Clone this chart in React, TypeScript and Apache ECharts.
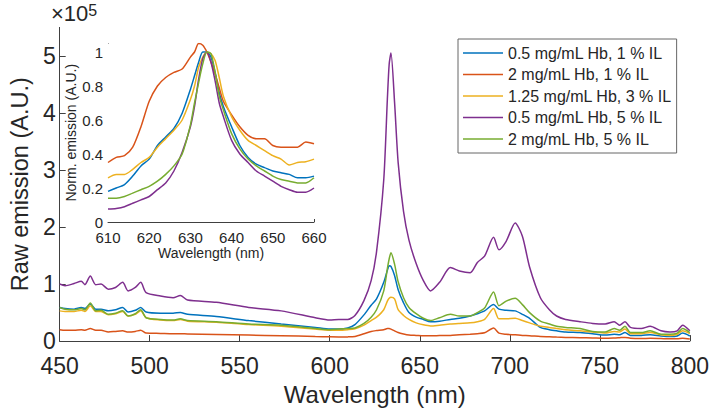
import React, { useEffect, useRef } from "react";
import * as echarts from "echarts";

// Raw emission spectra, values in units of 1e5 A.U.
const wavelength = [
  450, 453, 458, 462, 464, 467, 470, 473, 477, 481, 485, 488, 492, 495, 498, 506, 513, 517, 521, 537,
  555, 573, 592, 600, 605, 610, 614, 619, 623, 626, 630, 632, 633, 634, 636, 638, 641, 644, 648, 652,
  656, 661, 667, 672, 678, 682, 686, 691, 694, 698, 703, 707, 711, 717, 722, 726, 731, 739, 746, 753,
  758, 761, 764, 767, 773, 778, 784, 789, 793, 796, 800,
];
const hb05Il1 = [
  0.59, 0.57, 0.56, 0.59, 0.57, 0.65, 0.56, 0.56, 0.53, 0.55, 0.59, 0.51, 0.54, 0.59, 0.51, 0.49, 0.49, 0.5, 0.47, 0.43,
  0.36, 0.3, 0.24, 0.21, 0.21, 0.23, 0.29, 0.46, 0.63, 0.74, 1.03, 1.24, 1.32, 1.31, 1.15, 0.9, 0.67, 0.5, 0.42, 0.38,
  0.34, 0.35, 0.38, 0.4, 0.44, 0.48, 0.53, 0.64, 0.56, 0.54, 0.53, 0.47, 0.4, 0.24, 0.2, 0.18, 0.16, 0.15, 0.13, 0.105,
  0.12, 0.11, 0.15, 0.1, 0.1, 0.11, 0.09, 0.08, 0.09, 0.14, 0.09,
];
const hb2Il1 = [
  0.2, 0.19, 0.19, 0.2, 0.19, 0.22, 0.19, 0.19, 0.16, 0.17, 0.18, 0.16, 0.17, 0.19, 0.14, 0.135, 0.13, 0.13, 0.125, 0.115,
  0.105, 0.095, 0.08, 0.075, 0.073, 0.074, 0.082, 0.13, 0.17, 0.185, 0.2, 0.22, 0.22, 0.21, 0.18, 0.15, 0.125, 0.107, 0.1, 0.093,
  0.093, 0.097, 0.1, 0.11, 0.12, 0.13, 0.145, 0.23, 0.14, 0.12, 0.11, 0.1, 0.095, 0.08, 0.075, 0.07, 0.065, 0.06, 0.055, 0.05,
  0.055, 0.06, 0.065, 0.05, 0.045, 0.05, 0.045, 0.04, 0.04, 0.05, 0.035,
];
const hb125Il3 = [
  0.53, 0.52, 0.52, 0.54, 0.52, 0.62, 0.52, 0.52, 0.46, 0.48, 0.52, 0.44, 0.47, 0.53, 0.41, 0.37, 0.36, 0.38, 0.35, 0.33,
  0.29, 0.26, 0.21, 0.19, 0.19, 0.2, 0.215, 0.28, 0.36, 0.42, 0.55, 0.7, 0.75, 0.77, 0.74, 0.55, 0.45, 0.38, 0.32, 0.285,
  0.265, 0.28, 0.3, 0.31, 0.32, 0.34, 0.38, 0.57, 0.39, 0.39, 0.4, 0.36, 0.32, 0.26, 0.24, 0.22, 0.2, 0.18, 0.16, 0.14,
  0.17, 0.16, 0.21, 0.13, 0.13, 0.15, 0.11, 0.1, 0.12, 0.18, 0.13,
];
const hb05Il5 = [
  1.0, 0.97, 1.01, 1.05, 0.99, 1.14, 0.99, 1.0, 0.91, 0.94, 1.03, 0.88, 0.94, 1.03, 0.85, 0.79, 0.76, 0.8, 0.72, 0.68,
  0.59, 0.53, 0.41, 0.37, 0.38, 0.38, 0.45, 0.71, 1.06, 1.57, 2.83, 4.24, 4.85, 5.05, 4.19, 3.13, 2.27, 1.77, 1.36, 1.06,
  0.88, 1.03, 1.29, 1.23, 1.2, 1.38, 1.49, 1.82, 1.6, 1.75, 2.07, 1.84, 1.3, 0.76, 0.55, 0.44, 0.38, 0.34, 0.31, 0.3,
  0.34, 0.28, 0.34, 0.24, 0.22, 0.26, 0.18, 0.16, 0.18, 0.28, 0.18,
];
const hb2Il5 = [
  0.59, 0.56, 0.55, 0.57, 0.55, 0.67, 0.53, 0.54, 0.47, 0.49, 0.53, 0.44, 0.48, 0.55, 0.41, 0.38, 0.37, 0.39, 0.36, 0.34,
  0.3, 0.28, 0.22, 0.2, 0.21, 0.22, 0.23, 0.31, 0.42, 0.55, 0.88, 1.27, 1.44, 1.55, 1.35, 1.04, 0.76, 0.59, 0.48, 0.4,
  0.36, 0.41, 0.47, 0.44, 0.44, 0.5, 0.58, 0.86, 0.62, 0.7, 0.75, 0.64, 0.5, 0.35, 0.3, 0.26, 0.24, 0.22, 0.17, 0.16,
  0.22, 0.19, 0.26, 0.15, 0.15, 0.18, 0.12, 0.12, 0.14, 0.22, 0.15,
];

// Normalised emission around the 633 nm band
const insetWavelength = [
  610, 612, 614, 616, 618, 620, 622, 624, 626, 628, 630, 631, 632, 633, 634, 635, 636, 637, 638, 640,
  642, 644, 646, 648, 650, 652, 654, 656, 658, 660,
];
const normHb05Il1 = [
  0.18, 0.2, 0.22, 0.27, 0.33, 0.37, 0.45, 0.5, 0.55, 0.64, 0.78, 0.86, 0.94, 1.0, 1.0, 0.97, 0.88, 0.76, 0.68, 0.56,
  0.45, 0.38, 0.34, 0.32, 0.3, 0.29, 0.28, 0.26, 0.26, 0.27,
];
const normHb2Il1 = [
  0.35, 0.38, 0.39, 0.44, 0.56, 0.71, 0.8, 0.85, 0.88, 0.9, 0.97, 1.0, 1.05, 1.04, 1.0, 0.94, 0.87, 0.79, 0.71, 0.63,
  0.56, 0.51, 0.49, 0.49, 0.45, 0.44, 0.44, 0.44, 0.47, 0.46,
];
const normHb125Il3 = [
  0.26, 0.28, 0.28, 0.31, 0.35, 0.38, 0.44, 0.49, 0.54, 0.6, 0.72, 0.8, 0.91, 0.97, 1.0, 0.99, 0.95, 0.85, 0.74, 0.62,
  0.54, 0.48, 0.45, 0.42, 0.39, 0.37, 0.335, 0.35, 0.355, 0.37,
];
const normHb05Il5 = [
  0.076, 0.08, 0.09, 0.11, 0.13, 0.15, 0.19, 0.23, 0.3, 0.41, 0.56, 0.68, 0.84, 0.96, 1.0, 0.94, 0.83, 0.7, 0.62, 0.48,
  0.4, 0.35, 0.3, 0.27, 0.24, 0.21, 0.19, 0.175, 0.175, 0.2,
];
const normHb2Il5 = [
  0.14, 0.14, 0.15, 0.17, 0.19, 0.21, 0.24, 0.28, 0.33, 0.4, 0.57, 0.7, 0.82, 0.93, 1.0, 0.99, 0.88, 0.74, 0.66, 0.52,
  0.43, 0.37, 0.33, 0.3, 0.27, 0.25, 0.24, 0.23, 0.23, 0.26,
];

const sampleNames = [
  "0.5 mg/mL Hb, 1 % IL",
  "2 mg/mL Hb, 1 % IL",
  "1.25 mg/mL Hb, 3 % IL",
  "0.5 mg/mL Hb, 5 % IL",
  "2 mg/mL Hb, 5 % IL",
];
const sampleColors = ["#0072BD", "#D95319", "#EDB120", "#7E2F8E", "#77AC30"];
const rawSpectra = [hb05Il1, hb2Il1, hb125Il3, hb05Il5, hb2Il5];
const normSpectra = [normHb05Il1, normHb2Il1, normHb125Il3, normHb05Il5, normHb2Il5];

const rawTicks = [0, 1, 2, 3, 4, 5];
const normTicks = [0, 0.2, 0.4, 0.6, 0.8, 1];

const FONT = "'Liberation Sans', Arial, Helvetica, sans-serif";
const AXIS_COLOR = "#404040";
const TEXT_COLOR = "#262626";

export default function App() {
  const ref = useRef<HTMLDivElement>(null);

  useEffect(() => {
    if (!ref.current) return;
    const chart = echarts.init(ref.current, undefined, { renderer: "svg" });

    const axisCommon = {
      axisLine: { show: true, lineStyle: { color: AXIS_COLOR, width: 1 } },
      splitLine: { show: false },
    };

    const mainSeries = rawSpectra.map((vals, i) => ({
      name: sampleNames[i],
      type: "line",
      xAxisIndex: 0,
      yAxisIndex: 0,
      data: wavelength.map((w, k) => [w, vals[k]]),
      showSymbol: false,
      symbol: "none",
      smooth: 0.25,
      lineStyle: { color: sampleColors[i], width: 1.5 },
      itemStyle: { color: sampleColors[i] },
      z: 2,
    }));

    const insetSeries = normSpectra.map((vals, i) => ({
      name: "inset " + sampleNames[i],
      type: "line",
      xAxisIndex: 1,
      yAxisIndex: 1,
      data: insetWavelength.map((w, k) => [w, vals[k]]),
      showSymbol: false,
      symbol: "none",
      smooth: 0.25,
      lineStyle: { color: sampleColors[i], width: 1.5 },
      itemStyle: { color: sampleColors[i] },
      z: 4,
    }));

    chart.setOption({
      animation: false,
      backgroundColor: "#ffffff",
      textStyle: { fontFamily: FONT },
      grid: [
        { left: 49, right: 19, top: 27.4, bottom: 69, containLabel: false },
        {
          left: 108,
          width: 206,
          top: 43.5,
          height: 178.5,
          containLabel: false,
          show: true,
          backgroundColor: "#ffffff",
          borderWidth: 0,
          z: 3,
        },
      ],
      legend: {
        data: sampleNames,
        orient: "vertical",
        left: 458,
        top: 39,
        icon: "rect",
        itemWidth: 40,
        itemHeight: 1.6,
        itemGap: 5.5,
        padding: [6, 5, 6, 5],
        backgroundColor: "#ffffff",
        borderColor: "#666666",
        borderWidth: 1,
        textStyle: { fontSize: 16, lineHeight: 16, color: TEXT_COLOR, fontFamily: FONT },
        z: 10,
      },
      xAxis: [
        {
          type: "value",
          gridIndex: 0,
          min: 450,
          max: 800,
          interval: 50,
          name: "Wavelength (nm)",
          nameLocation: "middle",
          nameGap: 38,
          nameTextStyle: { fontSize: 24, color: TEXT_COLOR, fontFamily: FONT },
          ...axisCommon,
          axisTick: { show: true, inside: true, length: 6, lineStyle: { color: AXIS_COLOR } },
          axisLabel: { fontSize: 23, color: TEXT_COLOR, margin: 13, fontFamily: FONT },
        },
        {
          type: "value",
          gridIndex: 1,
          min: 610,
          max: 660,
          interval: 10,
          name: "Wavelength (nm)",
          nameLocation: "middle",
          nameGap: 24,
          nameTextStyle: { fontSize: 14, color: TEXT_COLOR, fontFamily: FONT },
          ...axisCommon,
          axisTick: { show: true, inside: true, length: 3, lineStyle: { color: AXIS_COLOR } },
          axisLabel: { fontSize: 15, color: TEXT_COLOR, margin: 8, fontFamily: FONT },
        },
      ],
      yAxis: [
        {
          type: "value",
          gridIndex: 0,
          min: 0,
          max: 5.5,
          name: "Raw emission (A.U.)",
          nameLocation: "middle",
          nameGap: 26,
          nameTextStyle: { fontSize: 23.5, color: TEXT_COLOR, fontFamily: FONT },
          ...axisCommon,
          axisTick: {
            show: true,
            inside: true,
            length: 6,
            customValues: rawTicks,
            lineStyle: { color: AXIS_COLOR },
          },
          axisLabel: {
            fontSize: 23,
            color: TEXT_COLOR,
            margin: 4,
            customValues: rawTicks,
            fontFamily: FONT,
          },
        },
        {
          type: "value",
          gridIndex: 1,
          min: 0,
          max: 1.05,
          name: "Norm. emission (A.U.)",
          nameLocation: "middle",
          nameGap: 26,
          nameTextStyle: { fontSize: 14, color: TEXT_COLOR, fontFamily: FONT },
          ...axisCommon,
          axisTick: {
            show: true,
            inside: true,
            length: 3,
            customValues: normTicks,
            lineStyle: { color: AXIS_COLOR },
          },
          axisLabel: {
            fontSize: 15,
            color: TEXT_COLOR,
            margin: 5,
            customValues: normTicks,
            fontFamily: FONT,
          },
        },
      ],
      graphic: [
        {
          type: "text",
          left: 51,
          top: 2,
          style: {
            text: "{m|×10}{e|5}",
            rich: {
              m: { fontSize: 22, fill: TEXT_COLOR, fontFamily: FONT, verticalAlign: "bottom" },
              e: { fontSize: 16, fill: TEXT_COLOR, fontFamily: FONT, verticalAlign: "top" },
            },
          },
        },
      ],
      series: [...mainSeries, ...insetSeries],
    });

    return () => chart.dispose();
  }, []);

  return (
    <div
      ref={ref}
      style={{ position: "absolute", left: 0, top: 0, width: 712, height: 411 }}
    />
  );
}
